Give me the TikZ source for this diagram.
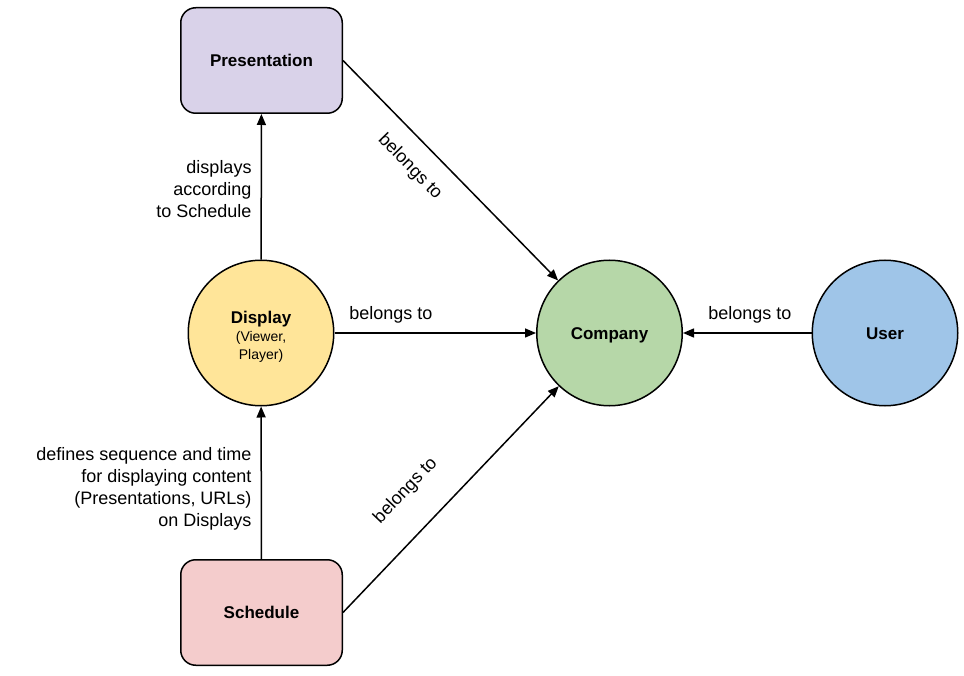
\documentclass[tikz,border=0pt]{standalone}
\usepackage{fontspec}
\setmainfont{Liberation Sans}
\usetikzlibrary{arrows.meta}
\definecolor{cpres}{HTML}{D9D2E9}
\definecolor{cdisp}{HTML}{FFE599}
\definecolor{ccomp}{HTML}{B6D7A8}
\definecolor{cuser}{HTML}{9FC5E8}
\definecolor{csched}{HTML}{F4CCCC}
\begin{document}
\begin{tikzpicture}[x=1pt,y=-1pt,
  box/.style={draw, line width=1.5pt, rounded corners=15pt, minimum width=161.5pt, minimum height=105.5pt, inner sep=0pt, font=\fontsize{17}{20}\selectfont\bfseries},
  ent/.style={draw, circle, line width=1.5pt, minimum size=145.5pt, inner sep=0pt, font=\fontsize{17}{20}\selectfont\bfseries},
  capc/.style={text height=12.2pt, text depth=0pt},
  rel/.style={line width=1.5pt, -{Triangle[length=11pt,width=9pt]}},
  lbl/.style={font=\fontsize{18}{22}\selectfont, inner sep=0pt}
]
\useasboundingbox[fill=white] (0,0) rectangle (964,676);
\node[box, capc, fill=cpres] (pres) at (261.5,60.5) {Presentation};
\node[box, capc, fill=csched] (sched) at (261.5,612.5) {Schedule};
\node[ent, fill=cdisp, align=center, font=\fontsize{14}{18}\selectfont] (disp) at (261,333) {\rule{0pt}{20pt}{\fontsize{17}{18}\selectfont\bfseries Display}\\(Viewer,\\Player)};
\node[ent, capc, fill=ccomp] (comp) at (609.5,333) {Company};
\node[ent, capc, fill=cuser] (user) at (885,333) {User};

\draw[rel] (disp) -- node[lbl, align=right, anchor=east, xshift=-9pt, yshift=-2pt] {displays\\according\\to Schedule} (pres);
\draw[rel] (sched) -- node[lbl, align=right, anchor=east, xshift=-9pt, yshift=-6pt] {defines sequence and time\\for displaying content\\(Presentations, URLs)\\on Displays} (disp);
\draw[rel] (disp) -- node[lbl, pos=0.07, anchor=south west, yshift=9pt] {belongs to} (comp);
\draw[rel] (user) -- node[lbl, pos=0.48, anchor=south, yshift=9pt] {belongs to} (comp);
\draw[rel] (pres.east) -- node[lbl, pos=0.40, sloped, anchor=north, inner ysep=17.5pt] {belongs to} (comp);
\draw[rel] (sched.east) -- node[lbl, pos=0.42, sloped, anchor=south, inner ysep=29.5pt] {belongs to} (comp);
\end{tikzpicture}
\end{document}
